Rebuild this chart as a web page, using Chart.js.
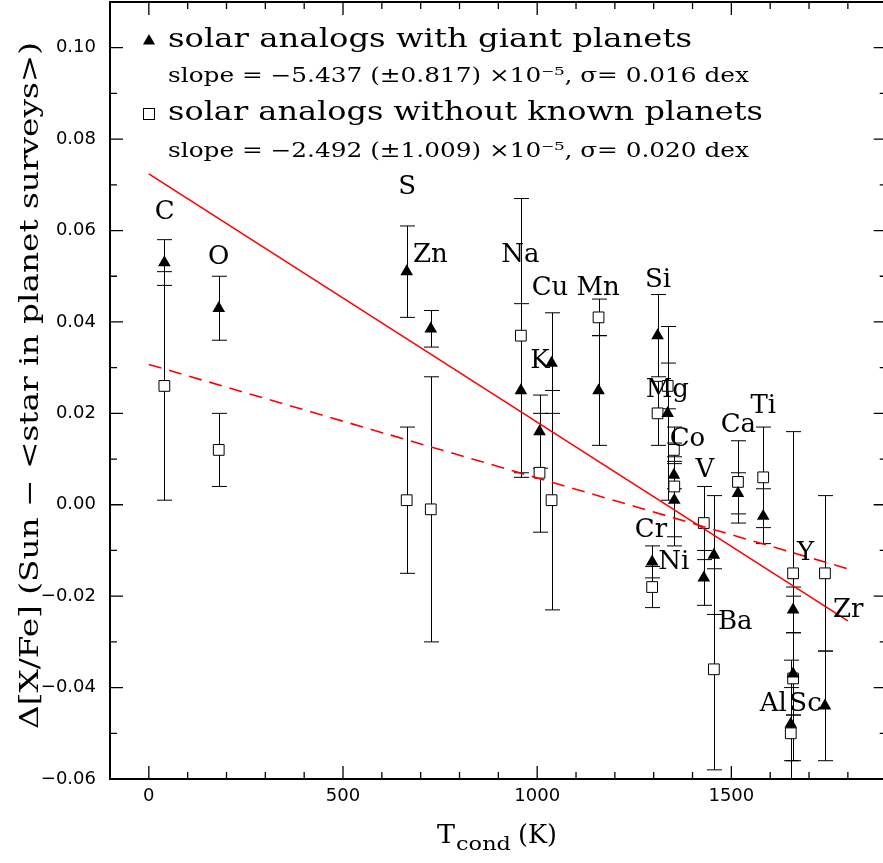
<!DOCTYPE html>
<html>
<head>
<meta charset="utf-8">
<script src="https://cdn.jsdelivr.net/npm/chart.js@4.4.0/dist/chart.umd.min.js"></script>
<style>
  html, body { margin: 0; padding: 0; background: #fff; overflow: hidden; }
  #wrap { position: relative; width: 900px; height: 863px; }
</style>
</head>
<body>
<div id="wrap"><canvas id="chart"></canvas></div>
<script>
// element, condensation temperature (K) and abundance differences
const ELEMENTS = ["C", "O", "S", "Zn", "Na", "K", "Cu", "Mn", "Si", "Mg", "Co", "Ni", "Cr", "V", "Ba", "Ca", "Ti", "Al", "Sc", "Y", "Zr"];
const TCOND = [40, 180, 664, 726, 958, 1006, 1037, 1158, 1310, 1336, 1352, 1353, 1296, 1429, 1455, 1517, 1582, 1653, 1659, 1659, 1741];

const WITH_PLANETS = [0.053, 0.043, 0.051, 0.0385, 0.025, 0.016, 0.031, 0.025, 0.037, 0.020, 0.0065, 0.001, -0.0125, -0.016, -0.011, 0.0025, -0.0025, -0.048, -0.037, -0.023, -0.044];
const WITH_ERR = [0.005, 0.007, 0.010, 0.004, 0.019, 0.008, 0.011, 0.012, 0.009, 0.019, 0.003, 0.008, 0.0035, 0.006, 0.013, 0.0045, 0.006, 0.008, 0.009, 0.005, 0.012];

const WITHOUT_PLANETS = [0.026, 0.012, 0.001, -0.001, 0.037, 0.007, 0.001, 0.041, 0.020, 0.026, 0.012, 0.004, -0.018, -0.004, -0.036, 0.005, 0.006, -0.050, -0.038, -0.015, -0.015];
const WITHOUT_ERR = [0.025, 0.008, 0.016, 0.029, 0.030, 0.013, 0.024, 0.004, 0.007, 0.005, 0.0015, 0.013, 0.0045, 0.008, 0.022, 0.009, 0.011, 0.016, 0.018, 0.031, 0.017];

// fitted lines, end points
const FIT_X = [0, 1800];
const FIT_WITH = [0.0724, -0.0254];
const FIT_WITHOUT = [0.0307, -0.0140];

// where each element name sits (data units, centre of the caps)
const LABEL_T = [41, 180, 665, 725, 957, 1007, 1033, 1157, 1311, 1335, 1387, 1352, 1293, 1432, 1510, 1518, 1582, 1608, 1691, 1691, 1801];
const LABEL_Y = [0.0645, 0.0547, 0.0700, 0.0551, 0.0551, 0.0321, 0.0480, 0.0480, 0.0498, 0.0257, 0.0149, -0.0120, -0.0049, 0.0082, -0.0252, 0.0179, 0.0221, -0.0430, -0.0430, -0.0101, -0.0225];

const LEGEND_LINES = [
  "solar analogs with giant planets",
  "slope = \u22125.437 (\u00b10.817) \u00d710\u207b\u2075, \u03c3= 0.016 dex",
  "solar analogs without known planets",
  "slope = \u22122.492 (\u00b11.009) \u00d710\u207b\u2075, \u03c3= 0.020 dex",
];

const X_MIN = -100, X_MAX = 1900;
const Y_MIN = -0.06, Y_MAX = 0.11;
const SERIF = '"DejaVu Serif", serif';
const SANS = '"DejaVu Sans", sans-serif';

function yLabel(v) {
  const r = Math.round(v * 100);
  if (r % 2 !== 0) return "";
  const s = (Math.abs(r) / 100).toFixed(2);
  return r < 0 ? "\u2212" + s : s;
}

function xLabel(v) {
  const r = Math.round(v);
  return r >= 0 && r <= 1500 && r % 500 === 0 ? String(r) : "";
}

// draw text squeezed/stretched to a given width
function fitText(ctx, text, x, y, width) {
  const m = ctx.measureText(text).width;
  ctx.save();
  ctx.translate(x, y);
  ctx.scale(width / m, 1);
  ctx.fillText(text, 0, 0);
  ctx.restore();
}

function triangleAt(ctx, x, y, r) {
  ctx.beginPath();
  ctx.moveTo(x, y - r);
  ctx.lineTo(x + r * 0.866, y + r / 2);
  ctx.lineTo(x - r * 0.866, y + r / 2);
  ctx.closePath();
  ctx.fill();
}

const errorBars = {
  id: "errorBars",
  beforeDatasetsDraw(chart) {
    const { ctx, chartArea: a, scales: { x, y } } = chart;
    ctx.save();
    ctx.beginPath();
    ctx.rect(a.left, a.top, a.right - a.left, a.bottom - a.top);
    ctx.clip();
    ctx.strokeStyle = "#000";
    ctx.lineWidth = 1;
    const cap = 7.5;
    const bar = (t, v, e) => {
      const px = Math.round(x.getPixelForValue(t)) + 0.5;
      const top = y.getPixelForValue(v + e);
      const bot = y.getPixelForValue(v - e);
      ctx.beginPath();
      ctx.moveTo(px, top);
      ctx.lineTo(px, bot);
      ctx.moveTo(px - cap, top);
      ctx.lineTo(px + cap, top);
      ctx.moveTo(px - cap, bot);
      ctx.lineTo(px + cap, bot);
      ctx.stroke();
    };
    TCOND.forEach((t, i) => {
      bar(t, WITHOUT_PLANETS[i], WITHOUT_ERR[i]);
      bar(t, WITH_PLANETS[i], WITH_ERR[i]);
    });
    ctx.restore();
  },
};

const decorations = {
  id: "decorations",
  afterDraw(chart) {
    const { ctx, chartArea: a, scales: { x, y } } = chart;
    ctx.save();
    ctx.strokeStyle = "#000";
    ctx.fillStyle = "#000";

    // ticks pointing inward on all four sides
    ctx.lineWidth = 1.3;
    ctx.beginPath();
    x.ticks.forEach((t) => {
      const px = x.getPixelForValue(t.value);
      const len = Math.round(t.value) % 500 === 0 ? 13 : 7;
      ctx.moveTo(px, a.bottom);
      ctx.lineTo(px, a.bottom - len);
      ctx.moveTo(px, a.top);
      ctx.lineTo(px, a.top + len);
    });
    y.ticks.forEach((t) => {
      const py = y.getPixelForValue(t.value);
      const len = Math.round(t.value * 100) % 2 === 0 ? 13 : 7;
      ctx.moveTo(a.left, py);
      ctx.lineTo(a.left + len, py);
      ctx.moveTo(a.right, py);
      ctx.lineTo(a.right - len, py);
    });
    ctx.stroke();

    // frame: left, top and bottom (the right side falls off the picture)
    ctx.lineWidth = 2;
    ctx.beginPath();
    ctx.moveTo(a.right, a.top);
    ctx.lineTo(a.left, a.top);
    ctx.lineTo(a.left, a.bottom);
    ctx.lineTo(a.right, a.bottom);
    ctx.stroke();

    // element names
    ctx.font = "26px " + SERIF;
    ctx.textAlign = "center";
    ctx.textBaseline = "alphabetic";
    ELEMENTS.forEach((el, i) => {
      ctx.fillText(el, x.getPixelForValue(LABEL_T[i]), y.getPixelForValue(LABEL_Y[i]) + 9.5);
    });

    // legend
    ctx.textAlign = "left";
    triangleAt(ctx, 149, 41, 7);
    ctx.lineWidth = 1;
    ctx.fillStyle = "#fff";
    ctx.fillRect(143.5, 108.5, 11, 11);
    ctx.strokeRect(143.5, 108.5, 11, 11);
    ctx.fillStyle = "#000";
    ctx.font = "26px " + SERIF;
    fitText(ctx, LEGEND_LINES[0], 168, 47, 524);
    fitText(ctx, LEGEND_LINES[2], 168, 120, 595);
    ctx.font = "20px " + SERIF;
    fitText(ctx, LEGEND_LINES[1], 168, 82, 581);
    fitText(ctx, LEGEND_LINES[3], 168, 157, 581);

    // x axis title
    ctx.font = "26px " + SERIF;
    fitText(ctx, "T", 437, 843, 18);
    fitText(ctx, "(K)", 518, 843, 39);
    ctx.font = "19px " + SERIF;
    fitText(ctx, "cond", 456, 850, 55);

    // y axis title
    ctx.save();
    ctx.translate(38, 729);
    ctx.rotate(-Math.PI / 2);
    ctx.font = "26px " + SERIF;
    fitText(ctx, "\u0394[X/Fe] (Sun \u2212 <star in planet surveys>)", 0, 0, 687);
    ctx.restore();

    ctx.restore();
  },
};

const ctx = document.getElementById("chart").getContext("2d");
new Chart(ctx, {
  type: "scatter",
  data: {
    datasets: [
      {
        label: "fit with planets",
        type: "line",
        data: FIT_X.map((t, i) => ({ x: t, y: FIT_WITH[i] })),
        borderColor: "#ff0000",
        borderWidth: 1.6,
        pointRadius: 0,
        fill: false,
        order: 0,
      },
      {
        label: "fit without planets",
        type: "line",
        data: FIT_X.map((t, i) => ({ x: t, y: FIT_WITHOUT[i] })),
        borderColor: "#ff0000",
        borderWidth: 1.6,
        borderDash: [13, 8],
        pointRadius: 0,
        fill: false,
        order: 0,
      },
      {
        label: "solar analogs with giant planets",
        data: TCOND.map((t, i) => ({ x: t, y: WITH_PLANETS[i] })),
        pointStyle: "triangle",
        pointRadius: 7.3,
        backgroundColor: "#000",
        borderColor: "#000",
        borderWidth: 0,
        order: 1,
      },
      {
        label: "solar analogs without known planets",
        data: TCOND.map((t, i) => ({ x: t, y: WITHOUT_PLANETS[i] })),
        pointStyle: "rect",
        pointRadius: 7.6,
        backgroundColor: "#fff",
        borderColor: "#000",
        borderWidth: 1,
        order: 2,
      },
    ],
  },
  options: {
    responsive: true,
    maintainAspectRatio: false,
    animation: false,
    layout: { autoPadding: false, padding: { left: 0, top: 2, right: 13.3, bottom: 0 } },
    plugins: {
      legend: { display: false },
      tooltip: { enabled: false },
    },
    scales: {
      x: {
        type: "linear",
        min: X_MIN,
        max: X_MAX,
        grid: { display: false, drawTicks: false },
        border: { display: false },
        ticks: {
          stepSize: 100,
          autoSkip: false,
          maxRotation: 0,
          padding: 7,
          color: "#000",
          font: { family: SANS, size: 18 },
          callback: (v) => xLabel(v),
        },
        afterFit: (scale) => {
          scale.height = 84;
          scale.paddingLeft = 0;
          scale.paddingRight = 0;
        },
      },
      y: {
        type: "linear",
        min: Y_MIN,
        max: Y_MAX,
        grid: { display: false, drawTicks: false },
        border: { display: false },
        ticks: {
          stepSize: 0.01,
          autoSkip: false,
          padding: 14,
          color: "#000",
          font: { family: SANS, size: 18 },
          callback: (v) => yLabel(v),
        },
        afterFit: (scale) => {
          scale.width = 110;
          scale.paddingTop = 0;
          scale.paddingBottom = 0;
        },
      },
    },
  },
  plugins: [errorBars, decorations],
});
</script>
</body>
</html>
